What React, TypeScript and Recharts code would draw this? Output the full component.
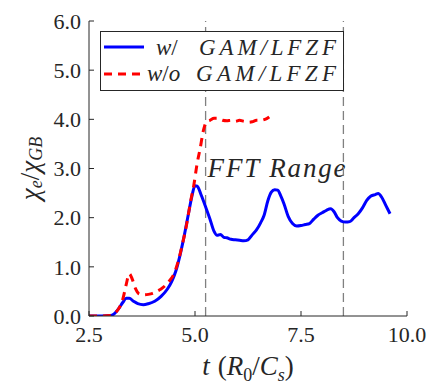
import React from "react";
import { LineChart, Line, XAxis, YAxis, ReferenceLine, ReferenceArea, Legend } from "recharts";

// chi_e / chi_GB vs t (R0/Cs)
const tBlue = [2.5, 2.8, 3.0, 3.1, 3.2, 3.3, 3.38, 3.45, 3.55, 3.65, 3.78, 3.9, 4.05, 4.2, 4.35, 4.45, 4.55, 4.65, 4.75, 4.85, 4.93, 5.0, 5.05, 5.15, 5.25, 5.35, 5.45, 5.52, 5.6, 5.68, 5.75, 5.85, 5.95, 6.05, 6.15, 6.25, 6.35, 6.45, 6.55, 6.63, 6.72, 6.8, 6.88, 6.95, 7.02, 7.1, 7.2, 7.3, 7.4, 7.5, 7.6, 7.7, 7.8, 7.9, 8.0, 8.1, 8.2, 8.28, 8.36, 8.45, 8.55, 8.65, 8.75, 8.85, 8.95, 9.05, 9.15, 9.25, 9.32, 9.4, 9.5, 9.6];
const chiBlue = [0, 0, 0.01, 0.05, 0.15, 0.28, 0.36, 0.36, 0.3, 0.25, 0.23, 0.25, 0.3, 0.4, 0.55, 0.7, 0.92, 1.25, 1.65, 2.1, 2.45, 2.65, 2.64, 2.45, 2.22, 1.98, 1.72, 1.64, 1.66, 1.6, 1.59, 1.56, 1.55, 1.54, 1.53, 1.55, 1.65, 1.75, 1.9, 2.05, 2.35, 2.52, 2.57, 2.56, 2.45, 2.28, 2.02, 1.88, 1.83, 1.84, 1.86, 1.88, 1.97, 2.05, 2.1, 2.15, 2.18, 2.12, 2.0, 1.93, 1.91, 1.92, 2.0, 2.08, 2.2, 2.35, 2.44, 2.47, 2.49, 2.42, 2.25, 2.08];

const tRed = [2.5, 2.8, 3.0, 3.1, 3.2, 3.3, 3.38, 3.45, 3.52, 3.6, 3.68, 3.78, 3.9, 4.0, 4.1, 4.2, 4.3, 4.4, 4.5, 4.6, 4.7, 4.8, 4.9, 4.97, 5.05, 5.12, 5.2, 5.27, 5.35, 5.45, 5.55, 5.65, 5.75, 5.85, 5.95, 6.05, 6.15, 6.25, 6.35, 6.45, 6.55, 6.65, 6.75];
const chiRed = [0, 0, 0.01, 0.05, 0.15, 0.35, 0.65, 0.86, 0.75, 0.55, 0.45, 0.43, 0.44, 0.46, 0.5, 0.55, 0.62, 0.72, 0.85, 1.1, 1.45, 1.85, 2.35, 2.65, 3.1, 3.4, 3.78, 3.95, 3.98, 4.02, 4.02, 3.98, 3.97, 3.98, 3.96, 3.98, 3.96, 3.94, 3.95, 3.98, 3.98, 4.0, 4.05];

const xTicks = [2.5, 5.0, 7.5, 10.0];
const yTicks = [0, 1, 2, 3, 4, 5, 6];
const fftRange = [5.25, 8.5];

const blueData = tBlue.map((t, i) => ({ t, chi: chiBlue[i] }));
const redData = tRed.map((t, i) => ({ t, chi: chiRed[i] }));

const INK = "#262626";
const SERIF = "Liberation Serif, DejaVu Serif, Times New Roman, serif";

function YLabel(props: any) {
  const { x, y, height } = props.viewBox;
  const cx = x + 30;
  const cy = y + height / 2;
  return (
    <text x={cx} y={cy} transform={`rotate(-90, ${cx}, ${cy})`} textAnchor="middle" dominantBaseline="central"
      fontFamily={SERIF} fontSize={27} fontStyle="italic" fill={INK}>
      <tspan>χ</tspan>
      <tspan fontSize={18} dy={6}>e</tspan>
      <tspan fontStyle="normal" dy={-6}>/</tspan>
      <tspan>χ</tspan>
      <tspan fontSize={18} dy={6}>GB</tspan>
    </text>
  );
}

function XLabel(props: any) {
  const { x, y, width } = props.viewBox;
  return (
    <text x={x + width / 2} y={y + 59} textAnchor="middle" fontFamily={SERIF} fontSize={27} fill={INK}>
      <tspan fontStyle="italic">t</tspan>
      <tspan dx={8}>(</tspan>
      <tspan fontStyle="italic">R</tspan>
      <tspan fontSize={18} dy={6}>0</tspan>
      <tspan dy={-6}>/</tspan>
      <tspan fontStyle="italic">C</tspan>
      <tspan fontSize={18} fontStyle="italic" dy={6}>s</tspan>
      <tspan dy={-6}>)</tspan>
    </text>
  );
}

function FftLabel(props: any) {
  const { x, y, height } = props.viewBox;
  return (
    <text x={x + 2} y={y + height / 2 + 8} fontFamily={SERIF} fontSize={27} fontStyle="italic" fill={INK}
      textLength={138} lengthAdjust="spacing">
      FFT Range
    </text>
  );
}

function LegendBox() {
  return (
    <svg width={245} height={61} style={{ display: "block" }}>
      <rect x={0.5} y={0.5} width={243} height={59} fill="#fff" stroke={INK} strokeWidth={1} />
      <line x1={4} x2={44} y1={16} y2={16} stroke="#0000ff" strokeWidth={3} />
      <text x={56} y={24} fontFamily={SERIF} fontSize={23} fontStyle="italic" fill={INK}>
        w<tspan fontStyle="normal">/</tspan>
      </text>
      <text x={99} y={24} fontFamily={SERIF} fontSize={23} fontStyle="italic" fill={INK} textLength={137} lengthAdjust="spacing">
        GAM/LFZF
      </text>
      <line x1={4} x2={44} y1={43} y2={43} stroke="#ff0000" strokeWidth={3} strokeDasharray="8 6" />
      <text x={47} y={50} fontFamily={SERIF} fontSize={23} fontStyle="italic" fill={INK}>
        w<tspan fontStyle="normal">/</tspan>o
      </text>
      <text x={96} y={50} fontFamily={SERIF} fontSize={23} fontStyle="italic" fill={INK} textLength={140} lengthAdjust="spacing">
        GAM/LFZF
      </text>
    </svg>
  );
}

export default function App() {
  const tickStyle = { fontSize: 22, fill: INK, fontFamily: SERIF };
  return (
    <div style={{ width: 436, height: 390, background: "#fff" }}>
      <style>{`body{margin:0}`}</style>
      <LineChart width={436} height={390} margin={{ top: 21, right: 29, bottom: 0, left: 0 }}>
        <XAxis dataKey="t" type="number" domain={[2.5, 10]} ticks={xTicks} allowDataOverflow
          tickFormatter={(v: number) => v.toFixed(1)} tick={tickStyle} height={74}
          stroke={INK} tickSize={-5} tickMargin={15} label={XLabel} />
        <XAxis xAxisId="top" orientation="top" dataKey="t" type="number" domain={[2.5, 10]} ticks={xTicks}
          allowDataOverflow height={0} tick={false} stroke={INK} tickSize={-5} />
        <YAxis type="number" domain={[0, 6]} ticks={yTicks} allowDataOverflow width={89}
          tickFormatter={(v: number) => v.toFixed(1)} tick={tickStyle}
          stroke={INK} tickSize={-5} tickMargin={13} label={YLabel} />
        <YAxis yAxisId="right" orientation="right" type="number" domain={[0, 6]} ticks={yTicks}
          allowDataOverflow width={0} tick={false} stroke={INK} tickSize={-5} />
        <ReferenceArea x1={fftRange[0]} x2={fftRange[1]} fill="none" fillOpacity={0} stroke="none" label={FftLabel} />
        <ReferenceLine x={fftRange[0]} stroke="#808080" strokeWidth={1.3} strokeDasharray="9 5" />
        <ReferenceLine x={fftRange[1]} stroke="#808080" strokeWidth={1.3} strokeDasharray="9 5" />
        <Line data={blueData} dataKey="chi" type="monotone" stroke="#0000ff" strokeWidth={3} dot={false}
          isAnimationActive={false} name="w/  GAM/LFZF" />
        <Line data={redData} dataKey="chi" type="monotone" stroke="#ff0000" strokeWidth={3} strokeDasharray="8 6"
          dot={false} isAnimationActive={false} name="w/o GAM/LFZF" />
        <Legend layout="horizontal" verticalAlign="middle" align="center" content={LegendBox}
          wrapperStyle={{ position: "absolute", top: 31, left: 100, width: 245, height: 61 }} />
      </LineChart>
    </div>
  );
}
